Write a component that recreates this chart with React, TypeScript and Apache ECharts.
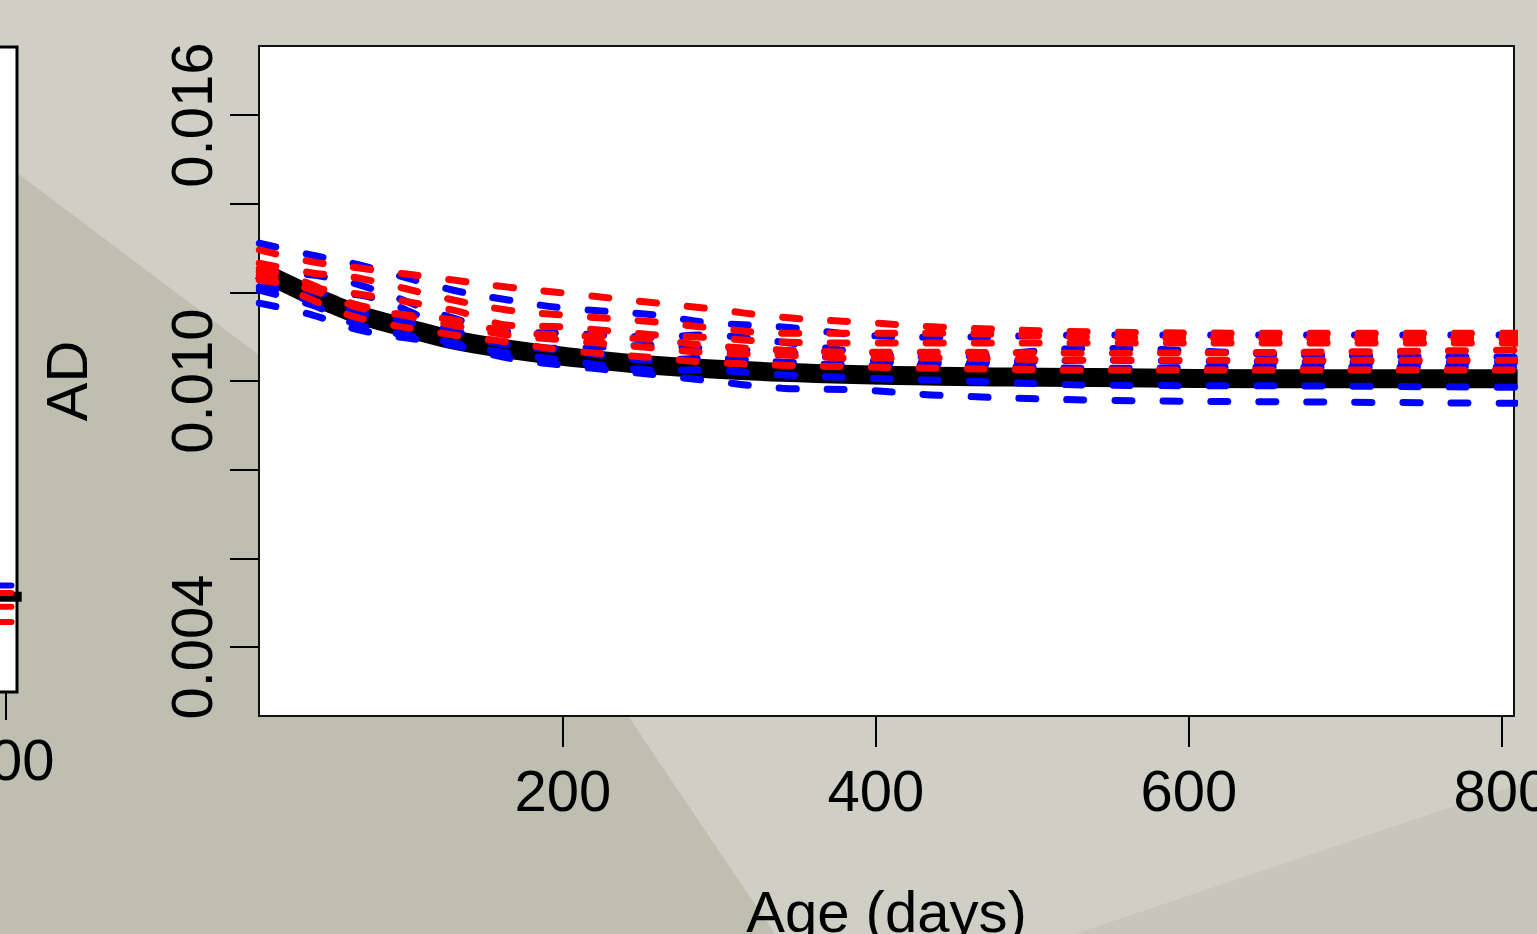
import React, { useEffect, useRef } from "react";
import * as echarts from "echarts";

// ---- data ----
const ageDays = [6, 40, 70, 130, 165, 200, 260, 290, 340, 390, 440, 540, 670, 810];

const fitAge = [6, 25, 40, 55, 70, 100, 130, 165, 200, 260, 340, 440, 540, 670, 810];
const blackFit = [0.0125, 0.01217, 0.01192, 0.0117, 0.01149, 0.0112, 0.01093, 0.01072, 0.01056, 0.01035, 0.0102, 0.01011, 0.01008, 0.01005, 0.01005];

const red1 = [0.01296, 0.01269, 0.01255, 0.01228, 0.01212, 0.01199, 0.01176, 0.01165, 0.01144, 0.01133, 0.01122, 0.01111, 0.01108, 0.01108];
const red2 = [0.01266, 0.01244, 0.01232, 0.01183, 0.0116, 0.01149, 0.01133, 0.01122, 0.01108, 0.01108, 0.01108, 0.01099, 0.01097, 0.01097];
const red3 = [0.01228, 0.0121, 0.01196, 0.0116, 0.01126, 0.01122, 0.01104, 0.01099, 0.01088, 0.01086, 0.01086, 0.01086, 0.01086, 0.01086];
const red4 = [0.01255, 0.01217, 0.01165, 0.01138, 0.01111, 0.01104, 0.01093, 0.01081, 0.0107, 0.01065, 0.01065, 0.01063, 0.01065, 0.0107];
const red5 = [0.01239, 0.01183, 0.01142, 0.01104, 0.01088, 0.0107, 0.01052, 0.01043, 0.01036, 0.01032, 0.01029, 0.01025, 0.01025, 0.01025];
const red6 = [0.01246, 0.01205, 0.01171, 0.01126, 0.01104, 0.01093, 0.01074, 0.01065, 0.01059, 0.01052, 0.01052, 0.01047, 0.01047, 0.01047];

const blue1 = [0.01311, 0.01284, 0.01262, 0.01205, 0.01183, 0.01165, 0.01149, 0.01133, 0.01122, 0.01104, 0.01099, 0.01104, 0.01104, 0.01104];
const blue2 = [0.01248, 0.01239, 0.01217, 0.01142, 0.01111, 0.01108, 0.01099, 0.01104, 0.01088, 0.01065, 0.01054, 0.01074, 0.01059, 0.01054];
const blue3 = [0.01212, 0.01199, 0.01194, 0.01115, 0.01081, 0.01074, 0.01081, 0.01074, 0.01065, 0.01047, 0.01041, 0.01047, 0.01043, 0.01043];
const blue4 = [0.01232, 0.01178, 0.01153, 0.01115, 0.01081, 0.0107, 0.01047, 0.01052, 0.01043, 0.01036, 0.01036, 0.01029, 0.01032, 0.01032];
const blue5 = [0.01205, 0.01171, 0.01126, 0.01086, 0.01063, 0.01047, 0.01025, 0.01025, 0.01014, 0.01007, 0.01002, 0.00991, 0.00989, 0.00986];
const blue6 = [0.01176, 0.01149, 0.01115, 0.01081, 0.01052, 0.01036, 0.01014, 0.01002, 0.00984, 0.0098, 0.00968, 0.00957, 0.00953, 0.0095];

// neighbouring panel (only its right edge is visible)
const leftAge = [700, 760, 810];
const leftBlack = [0.003, 0.00295, 0.00295];
const leftBlue = [0.0034, 0.0033, 0.0033];
const leftRedA = [0.0031, 0.00307, 0.00307];
const leftRedB = [0.0027, 0.00264, 0.00264];
const leftRedC = [0.0022, 0.00217, 0.00217];

const xTicks = [200, 400, 600, 800];
const yTicks = [0.004, 0.006, 0.008, 0.01, 0.012, 0.014, 0.016];
const yLabels = [0.004, 0.01, 0.016];
const leftXTicks = [800];

const FONT = "'Liberation Sans', Arial, Helvetica, sans-serif";

const pairs = (xs: number[], ys: number[]) => xs.map((x, i) => [x, ys[i]]);

export default function App() {
  const ref = useRef<HTMLDivElement>(null);
  useEffect(() => {
    if (!ref.current) return;
    const chart = echarts.init(ref.current, undefined, { renderer: "svg" });

    const dashed = (name: string, ys: number[], color: string) => ({
      name,
      type: "line",
      xAxisIndex: 0,
      yAxisIndex: 0,
      data: pairs(ageDays, ys),
      smooth: 0.35,
      symbol: "none",
      lineStyle: { color, width: 7, type: [17, 31], cap: "round" },
      z: color === "#ff0000" ? 4 : 3,
    });
    const leftLine = (name: string, ys: number[], color: string, dashedLine: boolean) => ({
      name,
      type: "line",
      xAxisIndex: 1,
      yAxisIndex: 1,
      data: pairs(leftAge, ys),
      symbol: "none",
      lineStyle: dashedLine
        ? { color, width: 6, type: [18, 30], cap: "round" }
        : { color, width: 10 },
    });

    const textStyle = { color: "#000", fontFamily: FONT, fontSize: 58 };

    chart.setOption({
      animation: false,
      backgroundColor: "#cfcfc6",
      graphic: {
        elements: [
          {
            type: "polygon",
            z: -10,
            silent: true,
            shape: { points: [[0, 160], [259, 355], [628, 716], [775, 934], [0, 934]] },
            style: { fill: "#bebeb1" },
          },
          {
            type: "polygon",
            z: -10,
            silent: true,
            shape: { points: [[1075, 934], [1537, 778], [1537, 934]] },
            style: { fill: "#c6c6bb" },
          },
        ],
      },
      grid: [
        {
          left: 259,
          right: 23,
          top: 46,
          bottom: 218,
          outerBoundsMode: "none",
          show: true,
          backgroundColor: "#ffffff",
          borderColor: "#111",
          borderWidth: 2,
        },
        {
          left: -300,
          right: 1520,
          top: 47,
          bottom: 242,
          outerBoundsMode: "none",
          show: true,
          backgroundColor: "#ffffff",
          borderColor: "#000",
          borderWidth: 3,
        },
      ],
      xAxis: [
        {
          gridIndex: 0,
          type: "value",
          min: 5.8,
          max: 807.7,
          axisLine: { show: false },
          splitLine: { show: false },
          axisTick: {
            show: true,
            length: 31,
            customValues: xTicks,
            lineStyle: { color: "#000", width: 2 },
          },
          axisLabel: { ...textStyle, customValues: xTicks, margin: 45 },
          name: "Age (days)",
          nameLocation: "middle",
          nameGap: 166,
          nameTextStyle: textStyle,
        },
        {
          gridIndex: 1,
          type: "value",
          min: 604.5,
          max: 807,
          axisLine: { show: false },
          splitLine: { show: false },
          axisTick: {
            show: true,
            length: 28,
            customValues: leftXTicks,
            lineStyle: { color: "#000", width: 2 },
          },
          axisLabel: { ...textStyle, customValues: leftXTicks, margin: 38 },
        },
      ],
      yAxis: [
        {
          gridIndex: 0,
          type: "value",
          min: 0.002444,
          max: 0.01756,
          axisLine: { show: false },
          splitLine: { show: false },
          axisTick: {
            show: true,
            length: 29,
            customValues: yTicks,
            lineStyle: { color: "#000", width: 2 },
          },
          axisLabel: {
            ...textStyle,
            customValues: yLabels,
            rotate: 90,
            margin: 39,
            formatter: (v: number) => v.toFixed(3),
          },
          name: "AD",
          nameLocation: "middle",
          nameRotate: 90,
          nameGap: 164,
          nameTextStyle: textStyle,
        },
        {
          gridIndex: 1,
          type: "value",
          min: 0,
          max: 0.02,
          show: false,
        },
      ],
      series: [
        {
          name: "fit",
          type: "line",
          xAxisIndex: 0,
          yAxisIndex: 0,
          data: pairs(fitAge, blackFit),
          smooth: 0.4,
          symbol: "none",
          lineStyle: { color: "#000", width: 19, cap: "butt" },
          z: 2,
        },
        dashed("blue1", blue1, "#0000ff"),
        dashed("blue2", blue2, "#0000ff"),
        dashed("blue3", blue3, "#0000ff"),
        dashed("blue4", blue4, "#0000ff"),
        dashed("blue5", blue5, "#0000ff"),
        dashed("blue6", blue6, "#0000ff"),
        dashed("red1", red1, "#ff0000"),
        dashed("red2", red2, "#ff0000"),
        dashed("red3", red3, "#ff0000"),
        dashed("red4", red4, "#ff0000"),
        dashed("red5", red5, "#ff0000"),
        dashed("red6", red6, "#ff0000"),
        leftLine("leftBlack", leftBlack, "#000", false),
        leftLine("leftBlue", leftBlue, "#0000ff", true),
        leftLine("leftRedA", leftRedA, "#ff0000", true),
        leftLine("leftRedB", leftRedB, "#ff0000", true),
        leftLine("leftRedC", leftRedC, "#ff0000", true),
      ],
    });
    return () => chart.dispose();
  }, []);

  return (
    <div
      ref={ref}
      style={{ position: "fixed", left: 0, top: 0, width: 1537, height: 934 }}
    />
  );
}
